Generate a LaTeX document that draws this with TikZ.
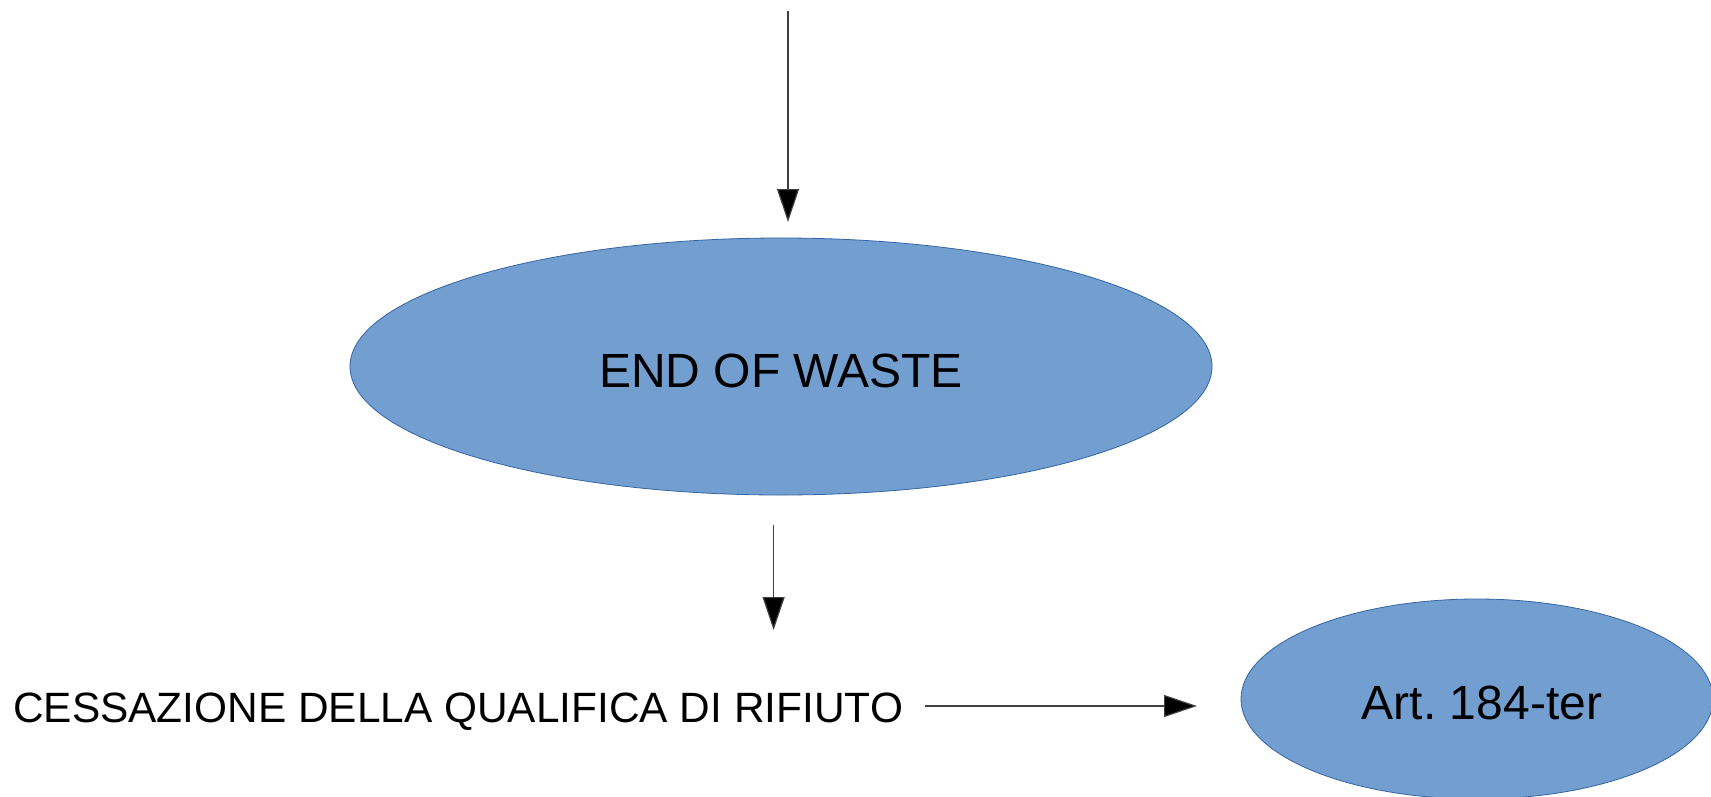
\documentclass[tikz,border=0pt]{standalone}
\usepackage{fontspec}
\setmainfont{Liberation Sans}
\usetikzlibrary{shapes.geometric,arrows.meta}
\definecolor{blobfill}{HTML}{729FCF}
\definecolor{blobdraw}{HTML}{3465A4}
\frenchspacing
\begin{document}
\begin{tikzpicture}[x=1pt,y=-1pt,
  blob/.style={ellipse,draw=blobdraw,line width=0.8pt,fill=blobfill,inner sep=0pt},
  conn/.style={draw=black!75,line width=1.2pt,-{Triangle[width=22pt,length=33pt,fill=black]}},
  lbl/.style={font=\fontsize{48}{56}\selectfont,anchor=base,inner sep=0pt}]
\useasboundingbox (0,0) rectangle (1711,796);
\clip (0,0) rectangle (1711,796);
\fill[white] (0,0) rectangle (1711,796);
\node[blob,minimum width=862pt,minimum height=257pt] (e1) at (781,366.5) {};
\node[lbl] (t1) at (781,387) {END OF WASTE};
\node[blob,minimum width=472pt,minimum height=200pt] (e2) at (1477,699) {};
\node[lbl] (t2) at (1482,719) {Art. 184-ter};
\node[font=\fontsize{42.4}{50}\selectfont,anchor=base west,inner sep=0pt] (t3) at (13,722) {CESSAZIONE DELLA QUALIFICA DI RIFIUTO};
\coordinate (top) at (788,11);
\coordinate (a1end) at (788,222);
\coordinate (a2start) at (773.6,525);
\coordinate (a2end) at (773.6,630);
\coordinate (a3start) at (925,706);
\coordinate (a3end) at (1197,706);
\draw[conn] (top) -- (a1end);
\draw[conn] (a2start) -- (a2end);
\draw[conn] (a3start) -- (a3end);
\end{tikzpicture}
\end{document}
